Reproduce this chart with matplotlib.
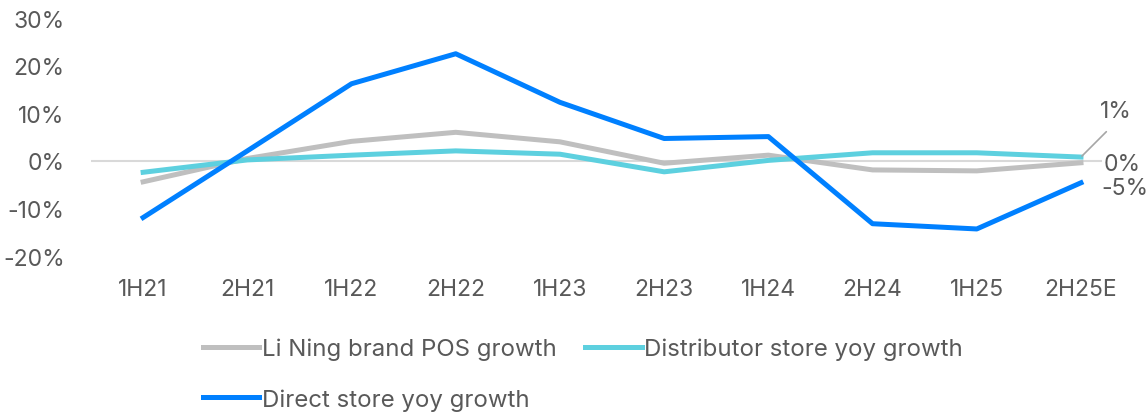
import matplotlib
matplotlib.use("Agg")
import matplotlib.pyplot as plt

# half-year periods and growth rates (%)
periods = ["1H21", "2H21", "1H22", "2H22", "1H23", "2H23", "1H24", "2H24", "1H25", "2H25E"]
pos_growth = [-4.4, 0.5, 4.1, 6.0, 4.0, -0.5, 1.2, -1.9, -2.1, -0.4]
distributor_growth = [-2.4, 0.2, 1.2, 2.1, 1.4, -2.3, 0.1, 1.7, 1.7, 0.8]
direct_growth = [-11.9, 2.1, 16.2, 22.5, 12.3, 4.7, 5.1, -13.2, -14.3, -4.6]

text_col = "#595959"
plt.rcParams["font.family"] = ["Inter", "DejaVu Sans"]

fig = plt.figure(figsize=(11.48, 4.14), dpi=100)
ax = fig.add_axes([0.0793, 0.379, 0.9077, 0.575])

x = list(range(len(periods)))
ax.axhline(0, color="#D9D9D9", lw=1.5, zorder=1)
l_pos, = ax.plot(x, pos_growth, color="#BFBFBF", lw=3.6, label="Li Ning brand POS growth", zorder=2)
l_dist, = ax.plot(x, distributor_growth, color="#5DD0DF", lw=3.6, label="Distributor store yoy growth", zorder=3)
l_dir, = ax.plot(x, direct_growth, color="#0080FF", lw=3.6, label="Direct store yoy growth", zorder=4)

ax.set_xlim(-0.5, len(periods) - 0.5)
ax.set_ylim(-20, 30)
ax.set_yticks(range(-20, 31, 10))
ax.set_yticklabels([f"{t}%" for t in range(-20, 31, 10)])
ax.set_xticks(x)
ax.set_xticklabels(periods)
ax.tick_params(axis="both", length=0, labelsize=16.5, colors=text_col)
ax.tick_params(axis="y", pad=19)
ax.tick_params(axis="x", pad=16)
for s in ax.spines.values():
    s.set_visible(False)

# end-point labels
last = len(periods) - 1
ax.annotate(f"{round(distributor_growth[-1])}%", xy=(last, distributor_growth[-1]),
            xytext=(35, 46), textcoords="offset pixels", ha="center", va="center",
            fontsize=16.5, color=text_col, zorder=6,
            arrowprops=dict(arrowstyle="-", color="#A6A6A6", lw=1.2, relpos=(0.5, 0),
                            shrinkA=7, shrinkB=1))
ax.annotate(f"{round(pos_growth[-1])}%", xy=(last, pos_growth[-1]),
            xytext=(41, -1), textcoords="offset pixels", ha="center", va="center",
            fontsize=16.5, color=text_col, zorder=6,
            bbox=dict(boxstyle="square,pad=0.05", fc="white", ec="none"))
ax.annotate(f"{round(direct_growth[-1])}%", xy=(last, direct_growth[-1]),
            xytext=(44, -5), textcoords="offset pixels", ha="center", va="center",
            fontsize=16.5, color=text_col, zorder=6)

leg = fig.legend([l_pos, l_dir, l_dist],
                 [l_pos.get_label(), l_dir.get_label(), l_dist.get_label()],
                 ncol=2, loc="upper left", bbox_to_anchor=(0.1768, 0.182),
                 frameon=False, fontsize=17.3, handlelength=2.35, handletextpad=0.1,
                 columnspacing=1.2, labelspacing=1.17, borderaxespad=0, borderpad=0)
for t in leg.get_texts():
    t.set_color(text_col)

fig.savefig("out.png", dpi=100)
